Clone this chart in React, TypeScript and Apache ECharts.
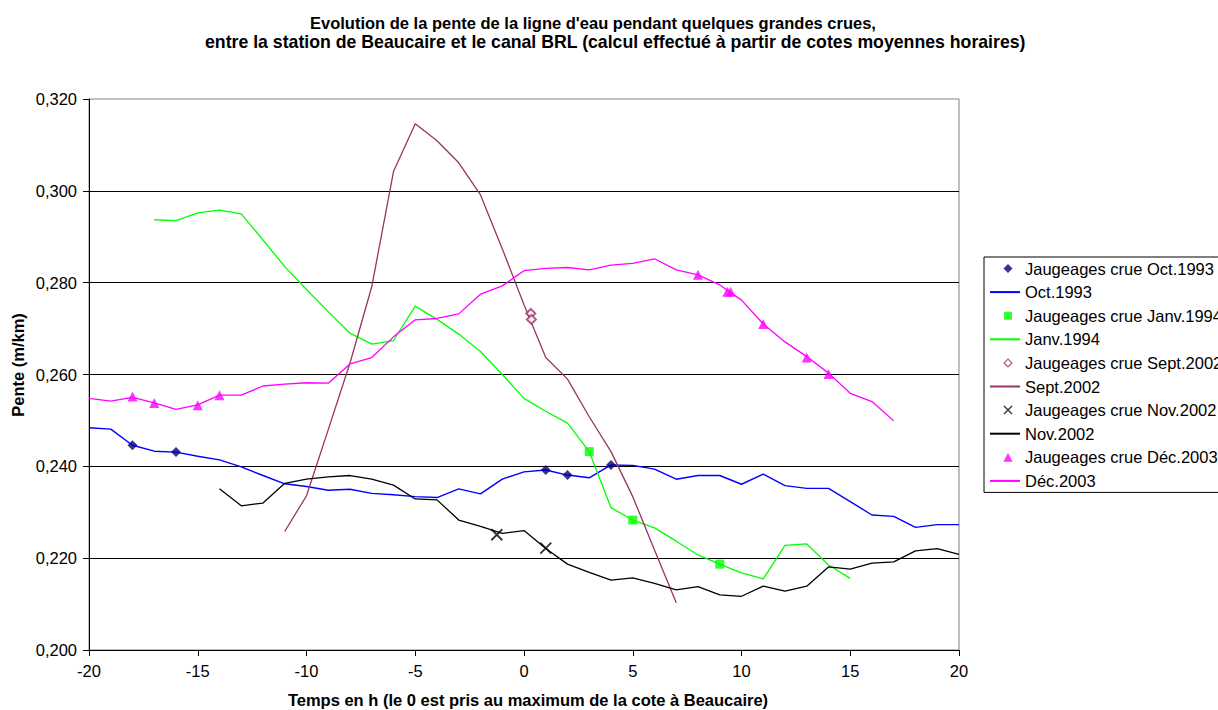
import React, { useEffect, useRef } from "react";
import * as echarts from "echarts";

const FONT = "'Liberation Sans', Arial, sans-serif";

const titleLine1 = "Evolution de la pente de la ligne d'eau pendant quelques grandes crues,";
const titleLine2 = "entre la station de Beaucaire et le canal BRL (calcul effectué à partir de cotes moyennes horaires)";
const xAxisName = "Temps en h (le 0 est pris au maximum de la cote à Beaucaire)";
const yAxisName = "Pente (m/km)";

// Oct.1993
const octHours = [-20, -19, -18, -17, -16, -15, -14, -13, -12, -11, -10, -9, -8, -7, -6, -5, -4, -3, -2, -1, 0, 1, 2, 3, 4, 5, 6, 7, 8, 9, 10, 11, 12, 13, 14, 15, 16, 17, 18, 19, 20];
const octValues = [0.2484, 0.2481, 0.2446, 0.2433, 0.2431, 0.2422, 0.2414, 0.2399, 0.2380, 0.2362, 0.2356, 0.2348, 0.2350, 0.2341, 0.2338, 0.2334, 0.2332, 0.2351, 0.2340, 0.2372, 0.2388, 0.2392, 0.2381, 0.2375, 0.2403, 0.2402, 0.2394, 0.2372, 0.2380, 0.2380, 0.2361, 0.2383, 0.2358, 0.2352, 0.2352, 0.2323, 0.2294, 0.2291, 0.2267, 0.2273, 0.2273];
const octGaugeHours = [-18, -16, 1, 2, 4];
const octGaugeValues = [0.2446, 0.2431, 0.2392, 0.2381, 0.2403];

// Janv.1994
const janHours = [-17, -16, -15, -14, -13, -12, -11, -10, -9, -8, -7, -6, -5, -4, -3, -2, -1, 0, 1, 2, 3, 4, 5, 6, 7, 8, 9, 10, 11, 12, 13, 14, 15];
const janValues = [0.2937, 0.2935, 0.2952, 0.2958, 0.2950, 0.2893, 0.2835, 0.2785, 0.2737, 0.2690, 0.2666, 0.2674, 0.2749, 0.2720, 0.2688, 0.2650, 0.2600, 0.2548, 0.2520, 0.2494, 0.2432, 0.2310, 0.2283, 0.2266, 0.2237, 0.2207, 0.2187, 0.2168, 0.2155, 0.2228, 0.2231, 0.2185, 0.2156];
const janGaugeHours = [3, 5, 9];
const janGaugeValues = [0.2432, 0.2283, 0.2187];

// Sept.2002
const septHours = [-11, -10, -9, -8, -7, -6, -5, -4, -3, -2, -1, 0, 1, 2, 3, 4, 5, 6, 7];
const septValues = [0.2258, 0.2336, 0.2480, 0.2625, 0.2791, 0.3042, 0.3146, 0.3109, 0.3061, 0.2991, 0.2874, 0.2752, 0.2637, 0.2590, 0.2508, 0.2432, 0.2334, 0.2218, 0.2103];
const septGaugeHours = [0.31, 0.34];
const septGaugeValues = [0.2733, 0.2720];

// Nov.2002
const novHours = [-14, -13, -12, -11, -10, -9, -8, -7, -6, -5, -4, -3, -2, -1, 0, 1, 2, 3, 4, 5, 6, 7, 8, 9, 10, 11, 12, 13, 14, 15, 16, 17, 18, 19, 20];
const novValues = [0.2351, 0.2314, 0.2320, 0.2363, 0.2372, 0.2377, 0.2380, 0.2372, 0.2359, 0.2329, 0.2327, 0.2283, 0.2269, 0.2254, 0.2260, 0.2221, 0.2187, 0.2169, 0.2152, 0.2157, 0.2145, 0.2131, 0.2138, 0.2120, 0.2117, 0.2139, 0.2128, 0.2139, 0.2181, 0.2176, 0.2189, 0.2192, 0.2216, 0.2221, 0.2208];
const novGaugeHours = [-1.25, 1];
const novGaugeValues = [0.2251, 0.2222];

// Déc.2003
const decHours = [-20, -19, -18, -17, -16, -15, -14, -13, -12, -11, -10, -9, -8, -7, -6, -5, -4, -3, -2, -1, 0, 1, 2, 3, 4, 5, 6, 7, 8, 9, 10, 11, 12, 13, 14, 15, 16, 17];
const decValues = [0.2548, 0.2542, 0.2550, 0.2538, 0.2524, 0.2534, 0.2555, 0.2555, 0.2575, 0.2579, 0.2582, 0.2581, 0.2623, 0.2637, 0.2682, 0.2719, 0.2722, 0.2732, 0.2775, 0.2793, 0.2826, 0.2831, 0.2833, 0.2828, 0.2838, 0.2842, 0.2852, 0.2828, 0.2817, 0.2795, 0.2762, 0.2710, 0.2671, 0.2639, 0.2603, 0.2559, 0.2541, 0.2499];
const decGaugeHours = [-18, -17, -15, -14, 8, 9.35, 9.5, 11, 13, 14];
const decGaugeValues = [0.2552, 0.2538, 0.2533, 0.2555, 0.2817, 0.2780, 0.2780, 0.2710, 0.2637, 0.2601];

const seriesNames = [
  "Jaugeages crue Oct.1993",
  "Oct.1993",
  "Jaugeages crue Janv.1994",
  "Janv.1994",
  "Jaugeages crue Sept.2002",
  "Sept.2002",
  "Jaugeages crue Nov.2002",
  "Nov.2002",
  "Jaugeages crue Déc.2003",
  "Déc.2003",
];

const X_SYMBOL = "path://M0 0L10 10M10 0L0 10";

// legend icons: 30x9 box (lone moveTo points fix the box), marker drawn off-centre like the original
const ICON_DIAMOND = "path://M0 0M30 9M18 0L22.5 4.5L18 9L13.5 4.5Z";
const ICON_RECT = "path://M0 0M30 9M14 0.5L22 0.5L22 8.5L14 8.5Z";
const ICON_EMPTY_DIAMOND = "path://M0 0M30 9M18 0.6L21.9 4.5L18 8.4L14.1 4.5Z";
const ICON_X = "path://M0 0M30 9M14 0.5L22 8.5M22 0.5L14 8.5";
const ICON_TRIANGLE = "path://M0 0M30 9M18 0L22.5 9L13.5 9Z";

const pairs = (xs: number[], ys: number[]) => xs.map((x, i) => [x, ys[i]]);

const lineSeries = (name: string, xs: number[], ys: number[], color: string, width = 1.3) => ({
  name,
  type: "line",
  data: pairs(xs, ys),
  symbol: "none",
  showSymbol: false,
  lineStyle: { color, width },
  itemStyle: { color },
  z: 2,
});

const scatterSeries = (name: string, xs: number[], ys: number[], symbol: string, size: number, itemStyle: any) => ({
  name,
  type: "scatter",
  data: pairs(xs, ys),
  symbol,
  symbolSize: size,
  itemStyle,
  z: 5,
});

const legendData = [
  { name: seriesNames[0], icon: ICON_DIAMOND, itemStyle: { color: "#000080", borderWidth: 0 } },
  { name: seriesNames[1], itemStyle: { opacity: 0 } },
  { name: seriesNames[2], icon: ICON_RECT, itemStyle: { color: "#00FF00", borderWidth: 0 } },
  { name: seriesNames[3], itemStyle: { opacity: 0 } },
  { name: seriesNames[4], icon: ICON_EMPTY_DIAMOND, itemStyle: { color: "#ffffff", borderColor: "#993366", borderWidth: 1.2 } },
  { name: seriesNames[5], itemStyle: { opacity: 0 } },
  { name: seriesNames[6], icon: ICON_X, itemStyle: { color: "transparent", borderColor: "#000000", borderWidth: 1.4 } },
  { name: seriesNames[7], itemStyle: { opacity: 0 } },
  { name: seriesNames[8], icon: ICON_TRIANGLE, itemStyle: { color: "#FF00FF", borderWidth: 0 } },
  { name: seriesNames[9], itemStyle: { opacity: 0 } },
];

export default function App() {
  const ref = useRef<HTMLDivElement>(null);
  useEffect(() => {
    if (!ref.current) return;
    const chart = echarts.init(ref.current, null, { renderer: "svg" });
    chart.setOption({
      animation: false,
      backgroundColor: "#fff",
      textStyle: { fontFamily: FONT },
      grid: {
        left: 89,
        right: 259,
        top: 99,
        bottom: 60,
        show: true,
        borderColor: "#808080",
        borderWidth: 1,
        containLabel: false,
      },
      graphic: [
        {
          type: "text",
          left: 310,
          top: 14,
          style: { text: titleLine1, font: `bold 16.5px ${FONT}`, fill: "#000" },
        },
        {
          type: "text",
          left: 205,
          top: 33,
          style: { text: titleLine2, font: `bold 17.7px ${FONT}`, fill: "#000" },
        },
        {
          type: "text",
          x: 18,
          y: 365,
          rotation: Math.PI / 2,
          style: {
            text: yAxisName,
            font: `bold 16.5px ${FONT}`,
            fill: "#000",
            align: "center",
            verticalAlign: "middle",
          },
        },
        {
          type: "text",
          x: 528,
          y: 700,
          style: {
            text: xAxisName,
            font: `bold 16.5px ${FONT}`,
            fill: "#000",
            align: "center",
            verticalAlign: "middle",
          },
        },
      ],
      legend: {
        orient: "vertical",
        left: 984,
        top: 257,
        padding: [2, 40, 2, 5],
        itemWidth: 30,
        itemHeight: 9,
        itemGap: 4.6,
        borderColor: "#000",
        borderWidth: 1,
        backgroundColor: "#fff",
        textStyle: { fontSize: 16.5, fontFamily: FONT, color: "#000", lineHeight: 19 },
        data: legendData,
      },
      xAxis: {
        type: "value",
        min: -20,
        max: 20,
        interval: 5,
        axisLine: { show: true, onZero: false, lineStyle: { color: "#000", width: 1 } },
        axisTick: { show: true, inside: false, length: 6, lineStyle: { color: "#000" } },
        axisLabel: { margin: 12, fontSize: 16.5, color: "#000", fontFamily: FONT },
        splitLine: { show: false },
      },
      yAxis: {
        type: "value",
        min: 0.2,
        max: 0.32,
        interval: 0.02,
        axisLine: { show: true, onZero: false, lineStyle: { color: "#000", width: 1 } },
        axisTick: { show: true, inside: false, length: 6, lineStyle: { color: "#000" } },
        axisLabel: {
          margin: 12,
          fontSize: 16.5,
          color: "#000",
          fontFamily: FONT,
          formatter: (v: number) => v.toFixed(3).replace(".", ","),
        },
        splitLine: { show: true, showMaxLine: false, lineStyle: { color: "#000", width: 1 } },
      },
      series: [
        scatterSeries(seriesNames[0], octGaugeHours, octGaugeValues, "diamond", 10, { color: "#000080" }),
        lineSeries(seriesNames[1], octHours, octValues, "#0000FF", 1.4),
        scatterSeries(seriesNames[2], janGaugeHours, janGaugeValues, "rect", 9, { color: "#00FF00" }),
        lineSeries(seriesNames[3], janHours, janValues, "#00FF00"),
        scatterSeries(seriesNames[4], septGaugeHours, septGaugeValues, "emptyDiamond", 9, {
          color: "#993366",
          borderColor: "#993366",
          borderWidth: 1.2,
        }),
        lineSeries(seriesNames[5], septHours, septValues, "#993366"),
        scatterSeries(seriesNames[6], novGaugeHours, novGaugeValues, X_SYMBOL, 11, {
          color: "transparent",
          borderColor: "#000",
          borderWidth: 1.8,
        }),
        lineSeries(seriesNames[7], novHours, novValues, "#000000"),
        scatterSeries(seriesNames[8], decGaugeHours, decGaugeValues, "triangle", 10, { color: "#FF00FF" }),
        lineSeries(seriesNames[9], decHours, decValues, "#FF00FF"),
      ],
    });
    return () => chart.dispose();
  }, []);
  return (
    <div
      ref={ref}
      style={{ position: "fixed", left: 0, top: 0, width: 1218, height: 710, overflow: "hidden", background: "#fff" }}
    />
  );
}
